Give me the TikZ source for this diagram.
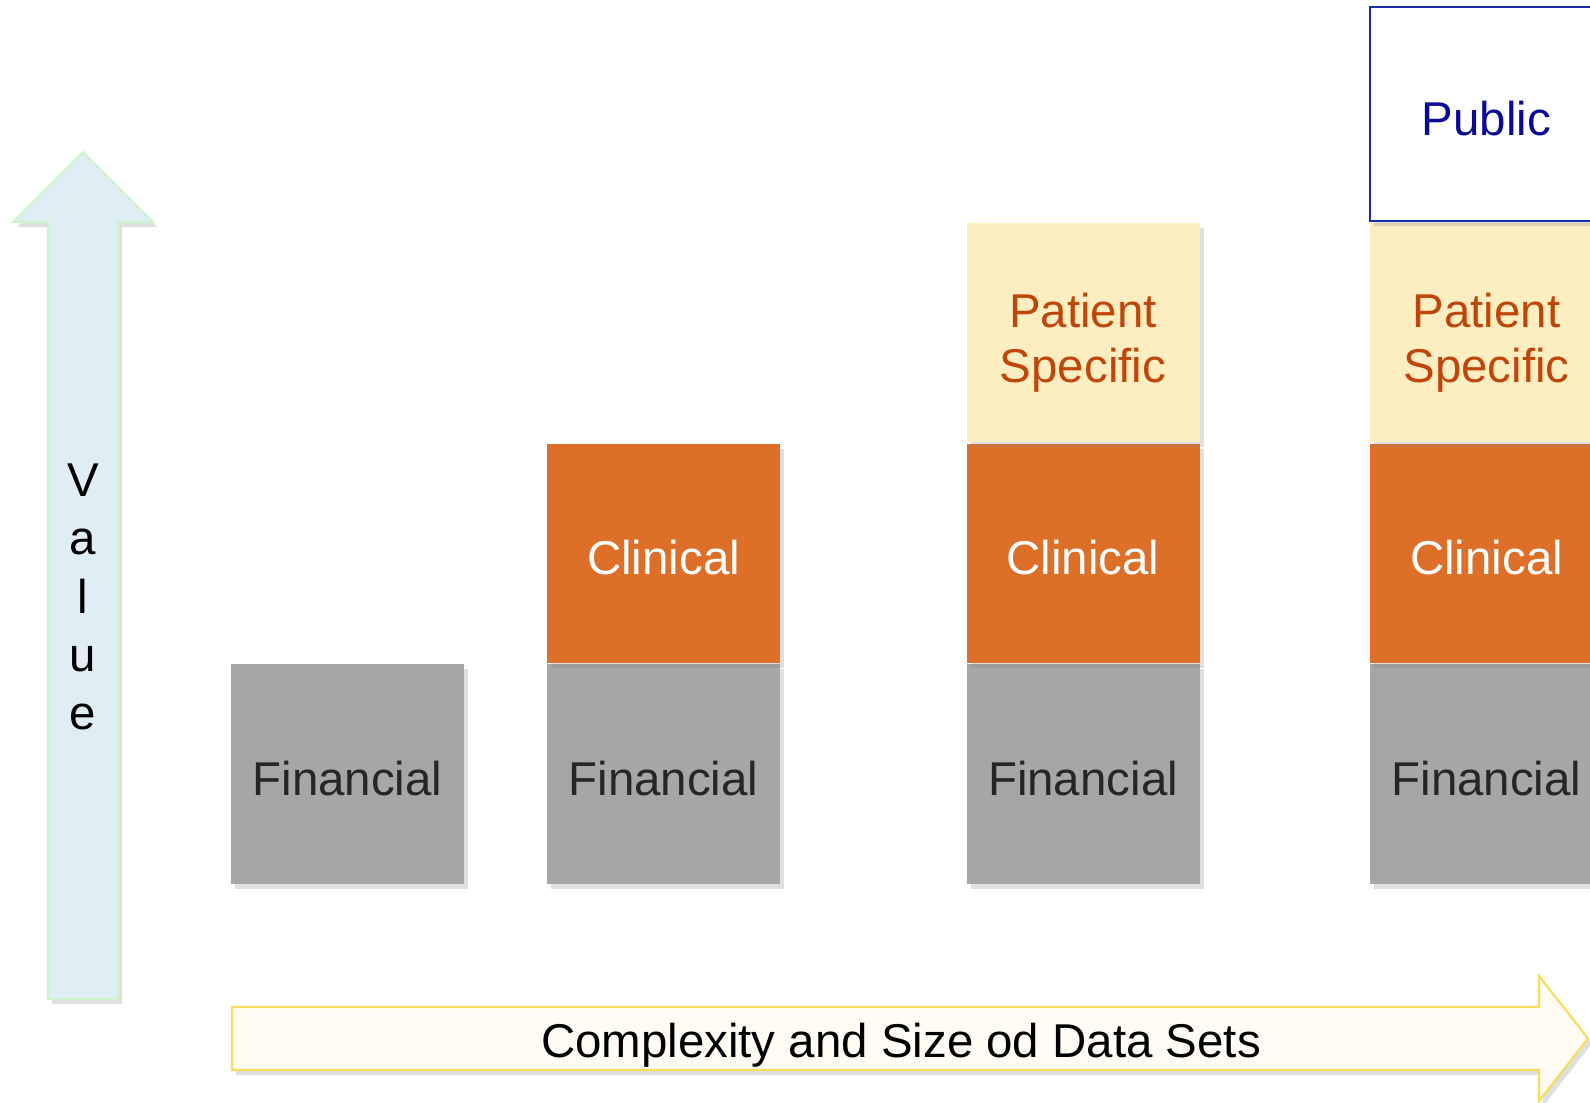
\documentclass[tikz,border=0pt]{standalone}
\usepackage{fontspec}
\setmainfont{Liberation Sans}
\usetikzlibrary{positioning,shadows}

\definecolor{fingray}{RGB}{166,166,166}
\definecolor{clinorange}{RGB}{222,111,40}
\definecolor{patyellow}{RGB}{253,238,193}
\definecolor{patbrown}{RGB}{190,70,10}
\definecolor{pubblue}{RGB}{25,45,170}
\definecolor{pubtext}{RGB}{10,10,150}
\definecolor{valfill}{RGB}{223,238,245}
\definecolor{valline}{RGB}{204,245,204}
\definecolor{sizefill}{RGB}{255,252,243}
\definecolor{sizeline}{RGB}{247,221,90}

\tikzset{
    bigtext/.style={font=\fontsize{13.5}{15.6}\selectfont},
    soft/.style={drop shadow={shadow xshift=0.4mm, shadow yshift=-0.5mm, opacity=0.25}},
    box/.style={bigtext, soft, minimum width=23.3mm, minimum height=21.9mm, inner sep=0pt,
        align=center, text height=12pt, text depth=0pt},
    fin/.style={box, fill=fingray, text=black!85, minimum height=22mm},
    clin/.style={box, fill=clinorange, text=white},
    pat/.style={box, fill=patyellow, text=patbrown, text height=28.4pt},
    pub/.style={box, fill=white, draw=pubblue, line width=0.6pt, text=pubtext, minimum height=21.4mm},
}

\begin{document}
\begin{tikzpicture}[x=0.1mm, y=-0.1mm]
    \clip (0,0) rectangle (1590,1102);
    \useasboundingbox (0,0) rectangle (1590,1102);

    % value arrow
    \filldraw[soft, fill=valfill, draw=valline, line width=0.6pt]
        (48,999) -- (48,222) -- (13,222) -- (83,152) -- (153,222) -- (118,222) -- (118,999) -- cycle;
    \node[bigtext, align=center, font=\fontsize{13.5}{16.6}\selectfont] (value) at (83,597) {V\\a\\l\\u\\e};

    % data set columns
    \foreach \n/\x in {a/347.5, b/663.5, c/1083, d/1486.5}{
        \node[fin] (fin\n) at (\x,774) {Financial};
    }
    \foreach \n in {b, c, d}{
        \node[clin, above=0pt of fin\n] (clin\n) {Clinical};
    }
    \foreach \n in {c, d}{
        \node[pat, above=0pt of clin\n] (pat\n) {Patient\\Specific};
    }
    \node[pub, above=0pt of patd] (pubd) {Public};

    % size arrow
    \filldraw[soft, fill=sizefill, draw=sizeline, line width=0.6pt]
        (232,1007) -- (1539,1007) -- (1539,976) -- (1588,1038.5) -- (1539,1101) -- (1539,1070) -- (232,1070) -- cycle;
    \node[bigtext] (sizes) at (901,1045) {Complexity and Size od Data Sets};
\end{tikzpicture}
\end{document}
